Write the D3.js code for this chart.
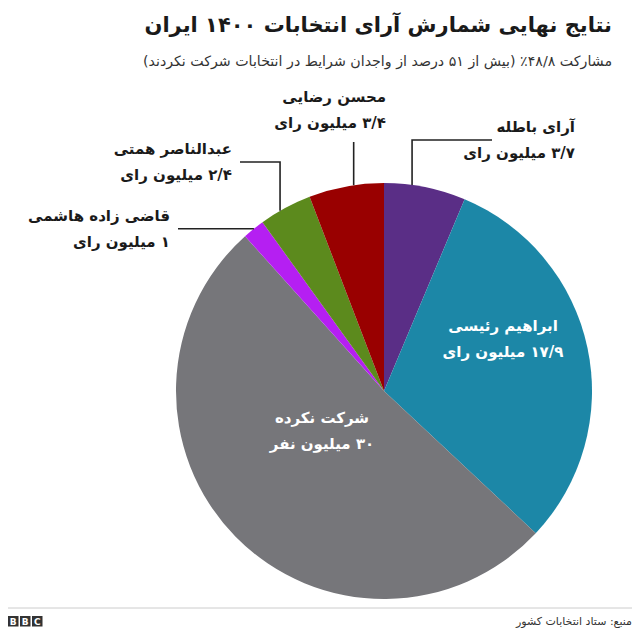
<!DOCTYPE html>
<html><head><meta charset="utf-8">
<script src="https://cdn.jsdelivr.net/npm/d3@7"></script>
<style>
html,body{margin:0;padding:0;background:#fff;}
svg text{font-family:"DejaVu Sans","Noto Sans",sans-serif;}
</style></head>
<body>
<svg id="c" width="640" height="642"></svg>
<script>
const names = ["آرای باطله","ابراهیم رئیسی","شرکت نکرده","قاضی زاده هاشمی","عبدالناصر همتی","محسن رضایی"];
const valueLabels = ["۳/۷ میلیون رای","۱۷/۹ میلیون رای","۳۰ میلیون نفر","۱ میلیون رای","۲/۴ میلیون رای","۳/۴ میلیون رای"];
const values = [3.7, 17.9, 30, 1, 2.4, 3.4];
const colors = ["#5a2e86","#1c87a7","#76767a","#b51ff2","#5c8a1d","#990000"];
const titleText = "نتایج نهایی شمارش آرای انتخابات ۱۴۰۰ ایران";
const subtitleText = "مشارکت ۴۸/۸٪ (بیش از ۵۱ درصد از واجدان شرایط در انتخابات شرکت نکردند)";
const sourceText = "منبع: ستاد انتخابات کشور";

const svg = d3.select("#c");
const cx = 384, cy = 391, R = 208;

svg.append("text").attr("x",612).attr("y",32).attr("direction","rtl").attr("text-anchor","start")
  .attr("font-size",21).attr("font-weight","bold").attr("fill","#1a1a1a").text(titleText);
svg.append("text").attr("x",612).attr("y",66).attr("direction","rtl").attr("text-anchor","start")
  .attr("font-size",14.2).attr("fill","#333").text(subtitleText);

const pie = d3.pie().sort(null).value(d=>d)(values);
const arc = d3.arc().innerRadius(0).outerRadius(R);
const g = svg.append("g").attr("transform",`translate(${cx},${cy})`);
g.selectAll("path").data(pie).join("path").attr("d",arc).attr("fill",(d,i)=>colors[i]);

// external label layout
const ext = [
  {i:0, t:0.34, type:"vh", ey:140, ex:492, tx:575, ty:[132,158]},
  {i:5, t:0.60, type:"v", ey:142, tx:386, ty:[102,128]},
  {i:4, t:0.39, type:"vh", ey:162, ex:240, tx:232, ty:[154,180]},
  {i:3, t:0.52, type:"h", ex:178, tx:170, ty:[221,247]}
];
ext.forEach(e=>{
  const p = pie[e.i];
  const a = p.startAngle + (p.endAngle-p.startAngle)*e.t;
  const px = cx + R*Math.sin(a), py = cy - R*Math.cos(a);
  let pts;
  if(e.type==="vh") pts=[[px,py],[px,e.ey],[e.ex,e.ey]];
  else if(e.type==="v") pts=[[px,py],[px,e.ey]];
  else pts=[[px,py],[e.ex,py]];
  svg.append("path").attr("d",d3.line()(pts)).attr("fill","none").attr("stroke","#222").attr("stroke-width",1.6);
  svg.append("text").attr("x",e.tx).attr("y",e.ty[0]).attr("direction","rtl").attr("text-anchor","start")
    .attr("font-size",15).attr("font-weight","bold").attr("fill","#1a1a1a").text(names[e.i]);
  svg.append("text").attr("x",e.tx).attr("y",e.ty[1]).attr("direction","rtl").attr("text-anchor","start")
    .attr("font-size",15).attr("font-weight","bold").attr("fill","#1a1a1a").text(valueLabels[e.i]);
});

// internal labels
const inl = [{i:1, x:503, y:[331,357]},{i:2, x:322, y:[423,449]}];
inl.forEach(e=>{
  svg.append("text").attr("x",e.x).attr("y",e.y[0]).attr("text-anchor","middle").attr("direction","rtl")
    .attr("font-size",15).attr("font-weight","bold").attr("fill","#fff").text(names[e.i]);
  svg.append("text").attr("x",e.x).attr("y",e.y[1]).attr("text-anchor","middle").attr("direction","rtl")
    .attr("font-size",15).attr("font-weight","bold").attr("fill","#fff").text(valueLabels[e.i]);
});

// footer
svg.append("line").attr("x1",8).attr("x2",632).attr("y1",608).attr("y2",608).attr("stroke","#ccc").attr("stroke-width",1);
const bbc = svg.append("g").attr("transform","translate(8,616)");
["B","B","C"].forEach((ch,k)=>{
  bbc.append("rect").attr("x",k*12).attr("y",0).attr("width",10.5).attr("height",10.5).attr("fill","#333");
  bbc.append("text").attr("x",k*12+5.25).attr("y",8.7).attr("text-anchor","middle").attr("font-size",9)
    .attr("font-weight","bold").attr("fill","#fff").text(ch);
});
svg.append("text").attr("x",632).attr("y",625).attr("direction","rtl").attr("text-anchor","start")
  .attr("font-size",11).attr("fill","#333").text(sourceText);
</script>
</body></html>
